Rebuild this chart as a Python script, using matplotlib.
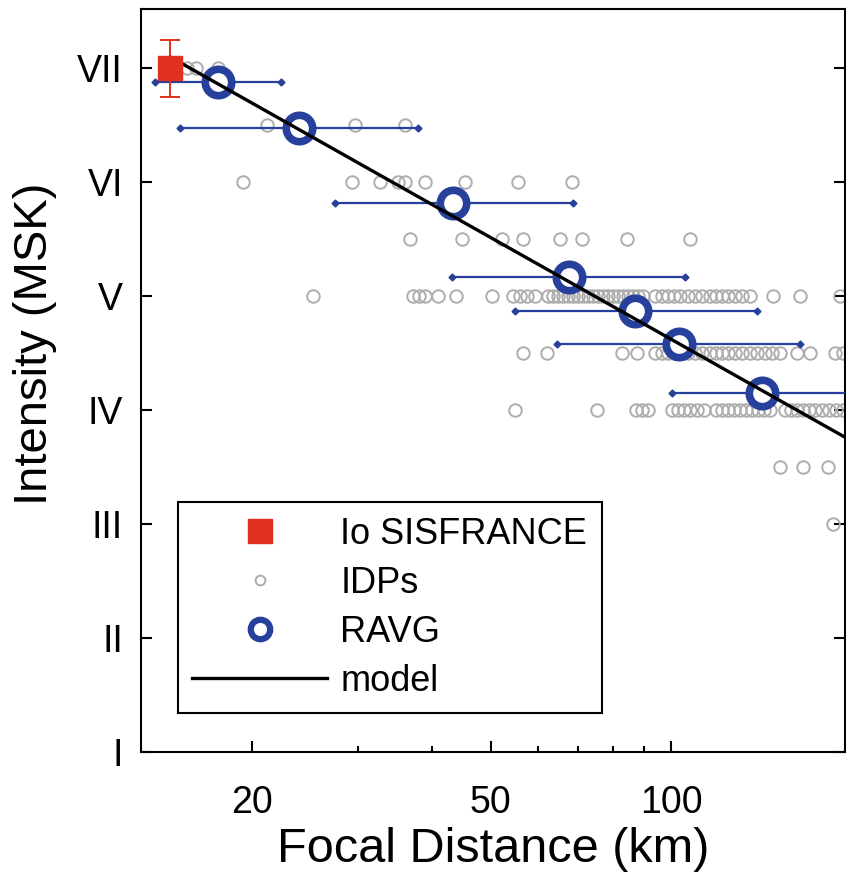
import numpy as np
import matplotlib
matplotlib.use('Agg')
import matplotlib.pyplot as plt
from matplotlib.ticker import FixedLocator, NullFormatter

plt.rcParams['font.family'] = ['Liberation Sans', 'DejaVu Sans']

# Io SISFRANCE (epicentral intensity)
io_dist = [14.6]
io_int = [7.0]
io_err = [0.25]

# IDPs, grouped by intensity row
idp_rows = {
    7.0: [15.6, 16.1, 17.55],
    6.5: [21.2, 24.0, 29.7, 36.0],
    6.0: [19.3, 29.4, 32.7, 35.0, 36.0, 38.9, 45.3, 55.6, 68.4],
    5.5: [36.7, 44.8, 52.2, 56.6, 65.3, 71.0, 84.6, 107.6],
    5.0: [25.3, 37.1, 38.0, 38.9, 40.9, 43.8, 50.3, 54.5, 56.0, 57.5, 59.3,
          62.3, 63.6, 64.8, 66.0, 67.3, 68.6, 70.0, 71.3, 72.7, 74.1, 75.5,
          77.0, 78.5, 80.1, 81.6, 83.2, 84.8, 86.4, 88.1, 89.8, 94.0, 96.6,
          98.9, 101.2, 103.5, 106.8, 109.7, 112.7, 116.2, 118.9, 121.7,
          124.5, 127.9, 131.4, 135.5, 148.0, 164.2, 191.4],
    4.5: [56.6, 62.1, 82.9, 87.8, 94.0, 96.6, 98.9, 101.2, 103.5, 106.8,
          109.7, 112.7, 116.2, 118.9, 121.7, 124.5, 127.9, 131.4, 135.5,
          139.2, 143.5, 147.4, 152.0, 162.3, 170.6, 187.7, 193.6],
    4.0: [54.9, 75.2, 87.4, 89.4, 91.5, 100.4, 102.7, 105.1, 107.6, 110.5,
          113.5, 118.9, 121.7, 124.5, 127.4, 130.4, 133.4, 136.5, 139.7,
          143.0, 146.3, 155.0, 158.6, 162.3, 166.1, 170.0, 173.9, 178.7,
          183.5, 188.4, 193.6],
    3.5: [152.0, 166.1, 182.8],
    3.0: [186.3],
}

# RAVG: averaged intensities with distance ranges
ravg_dist = [17.55, 24.0, 43.3, 67.6, 87.1, 103.1, 141.9]
ravg_int = [6.88, 6.475, 5.818, 5.17, 4.872, 4.583, 4.154]
ravg_dmin = [13.78, 15.17, 27.5, 43.1, 54.9, 64.5, 100.4]
ravg_dmax = [22.36, 37.8, 68.6, 105.5, 139.2, 164.2, 215.0]

# model line
model_dist = [14.6, 200.0]
model_int = [7.10, 3.73]

roman = ['I', 'II', 'III', 'IV', 'V', 'VI', 'VII']

fig = plt.figure(figsize=(8.46, 8.76), dpi=100)
ax = fig.add_axes([0.1667, 0.1416, 0.832, 0.8481])

blue = '#26409b'
grey = '#adadad'

idp_x = []
idp_y = []
for lev, ds in idp_rows.items():
    idp_x += ds
    idp_y += [lev] * len(ds)
ax.plot(idp_x, idp_y, 'o', ms=9, mfc='none', mec=grey, mew=1.4,
        label='IDPs', zorder=2)

for d, i, lo, hi in zip(ravg_dist, ravg_int, ravg_dmin, ravg_dmax):
    ax.plot([lo, hi], [i, i], '-', color=blue, lw=1.6, zorder=3)
    ax.plot([lo, hi], [i, i], 'D', color=blue, ms=3.5, zorder=3)
ax.plot(ravg_dist, ravg_int, 'o', ms=19, mfc='white', mec=blue, mew=5.5,
        label='RAVG', zorder=4)

ax.plot(model_dist, model_int, '-', color='black', lw=2.4, label='model',
        zorder=5)

ax.errorbar(io_dist, io_int, yerr=io_err, fmt='none', ecolor='#e0301e',
            elinewidth=1.4, capsize=7, capthick=1.4, zorder=6)
ax.plot(io_dist, io_int, 's', ms=17, color='#e0301e', mec='#e0301e',
        label='Io SISFRANCE', zorder=6)

ax.set_xscale('log')
ax.set_xlim(13.06, 195)
ax.set_ylim(1, 7.52)

ax.xaxis.set_major_locator(FixedLocator([20, 50, 100]))
ax.xaxis.set_minor_locator(FixedLocator([30, 40, 60, 70, 80, 90]))
ax.xaxis.set_minor_formatter(NullFormatter())
ax.set_xticklabels(['20', '50', '100'])
ax.set_yticks(range(1, 8))
ax.set_yticklabels(roman)

ax.tick_params(axis='both', which='major', direction='in', length=8,
               width=1.5)
ax.tick_params(axis='both', which='minor', direction='in', length=4,
               width=1.5)
ax.tick_params(axis='x', which='major', labelsize=27, pad=24)
ax.tick_params(axis='y', right=True, labelsize=27, pad=13)
for s in ax.spines.values():
    s.set_linewidth(1.5)

ax.set_xlabel('Focal Distance (km)', fontsize=35, labelpad=4)
ax.set_ylabel('Intensity (MSK)', fontsize=34)
ax.yaxis.set_label_coords(-0.12, 0.55)

h, l = ax.get_legend_handles_labels()
order = [3, 0, 1, 2]
leg = ax.legend([h[k] for k in order], [l[k] for k in order],
                loc='lower left', bbox_to_anchor=(0.052, 0.052),
                borderaxespad=0, fontsize=26, frameon=True, fancybox=False,
                edgecolor='black', framealpha=1, handlelength=3.75,
                labelspacing=0.39, borderpad=0.4, handletextpad=0.36,
                numpoints=1)
leg.get_frame().set_linewidth(1.5)
leg.legend_handles[1].set_markersize(7)
leg.legend_handles[2].set_markersize(14)
leg.legend_handles[2].set_markeredgewidth(4.5)

fig.savefig('out.png', dpi=100)
